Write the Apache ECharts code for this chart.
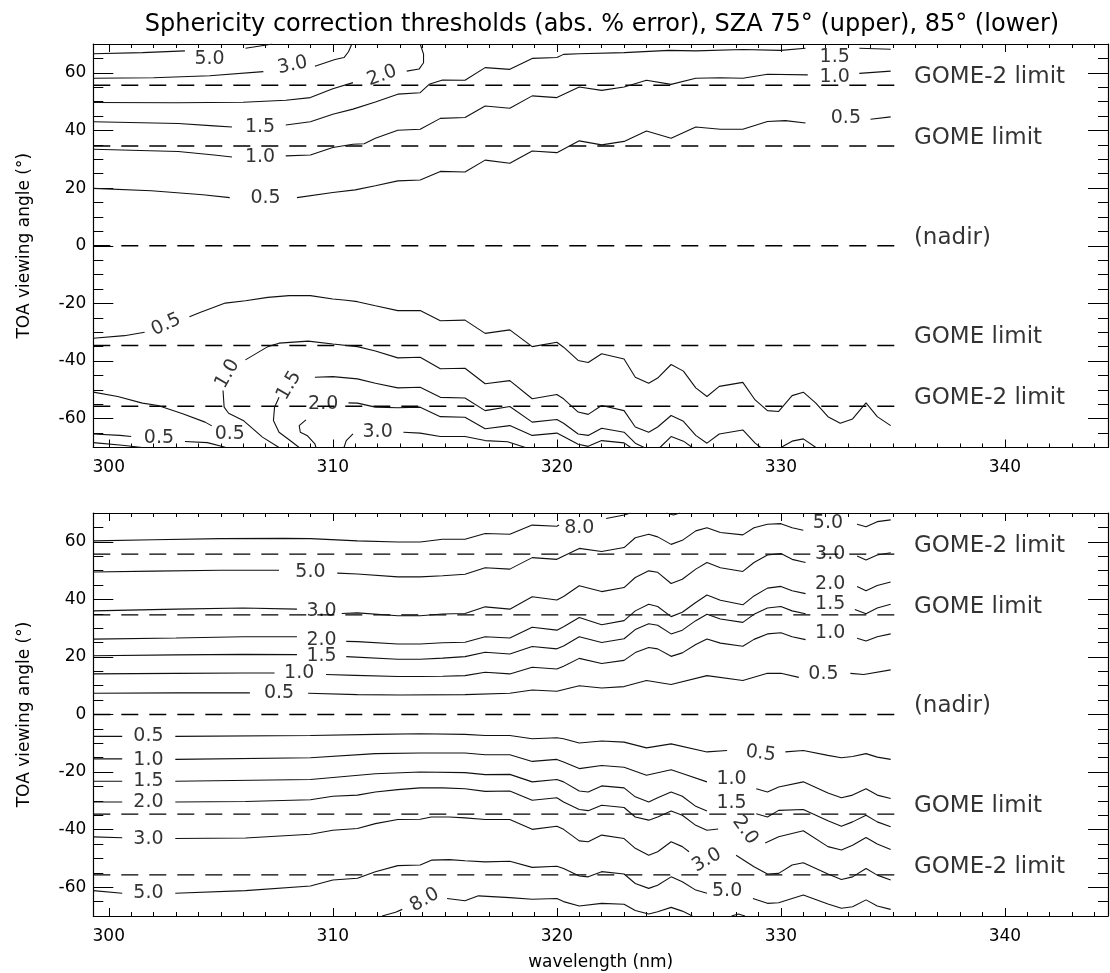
<!DOCTYPE html>
<html>
<head>
<meta charset="utf-8">
<title>Sphericity correction thresholds</title>
<script src="https://cdn.jsdelivr.net/npm/echarts@6/dist/echarts.min.js"></script>
<style>
  html, body { margin: 0; padding: 0; background: #fff; }
  #chart { width: 1110px; height: 973px; }
</style>
</head>
<body>
<div id="chart"></div>
<script>
// axis ranges and tick labels
var xMin = 299.31, xMax = 344.6;
var xTicks = [300, 310, 320, 330, 340];
var yMin = -70, yMax = 70;
var yTicks = [-60, -40, -20, 0, 20, 40, 60];

// dashed viewing-angle limits
var limitVals = [55.7, 34.6, 0, -34.6, -55.7];
var limitNames = ['GOME-2 limit', 'GOME limit', '(nadir)', 'GOME limit', 'GOME-2 limit'];
var limitEnd = 335.2;

// ---- upper panel, SZA 75 : contour segments [nm, angle]
var p75_pos_50 = [
  [[299.31, 66.6], [301.5, 67.0], [303.4, 67.6]],
  [[306.1, 68.5], [306.9, 69.5], [307.3, 70]]
];
var p75_pos_30 = [
  [[299.31, 58.1], [302, 58.3], [304.5, 59.0], [306.9, 60.4]],
  [[309.2, 62.3], [310.1, 64.6], [310.5, 65.3], [310.7, 67.3], [310.85, 70]]
];
var p75_pos_20 = [
  [[299.31, 49.7], [303, 49.6], [306, 49.8], [307.9, 50.5], [309, 51.4], [310, 54.5], [310.9, 56.6]],
  [[313.3, 60.6], [313.85, 61.3], [314.05, 63.5], [314.05, 66.5], [313.9, 70]]
];
var p75_pos_15 = [
  [[299.31, 43], [303.1, 42.4], [304.7, 41.6], [305.5, 41.2]],
  [[307.9, 41.9], [309, 43], [310, 45.6], [310.9, 47.4], [311.9, 49.9], [312.9, 52.6], [313.9, 53.1], [314.3, 56],
   [314.9, 57.5], [315.9, 57.4], [316.8, 61.8], [317.9, 61.2], [318.9, 65], [320, 65.3], [320.3, 66.4], [321, 66.6],
   [323, 67], [325, 67.8], [326.2, 67.6], [328.3, 68.1], [330, 67.8], [331.1, 68.5]],
  [[333.5, 68.5], [334.9, 68.2]]
];
var p75_pos_10 = [
  [[299.31, 33.5], [303.1, 32.7], [304.7, 31.5], [305.5, 30.8]],
  [[307.9, 31.2], [309, 31.5], [310, 34.1], [310.9, 35.2], [311.4, 35.4], [311.9, 37.3], [312.9, 40.1], [313.9, 40.4],
   [314.8, 44.2], [315.9, 44.5], [316.8, 48.5], [317.9, 47.7], [318.9, 52], [320, 51.4], [321, 55.1], [322, 53.9],
   [323, 55.1], [324, 57.4], [325.1, 56], [326.2, 58.1], [327.3, 58.3], [328.3, 58.1], [329.4, 59.5], [331.2, 59.3]],
  [[333.5, 59.8], [334.9, 60.6]]
];
var p75_pos_05 = [
  [[299.31, 19.9], [301.9, 19.1], [304.2, 17.7], [305.4, 16.7]],
  [[308.4, 16.7], [310, 18.5], [311, 19.4], [311.9, 20.8], [312.9, 22.5], [313.9, 22.8], [314.8, 25.8], [315.9, 25.6],
   [316.8, 29.7], [317.9, 28.6], [318.9, 32.9], [320, 32.3], [321, 36.4], [322, 35], [323, 36.2], [324, 39.8],
   [325.1, 37.3], [326.2, 41.2], [327.3, 40.4], [328.3, 40.4], [329.4, 43.1], [330.2, 43.4], [331.1, 42.6]],
  [[334.0, 43.9], [334.9, 44.7]]
];
var p75_neg_05 = [
  [[299.31, -32.1], [300.7, -31.2], [301.6, -30]],
  [[303.6, -24.6], [304.1, -23.1], [305.2, -19.9], [306.1, -19.1], [307.1, -17.9], [308.05, -17.3], [309, -17.3],
   [310, -18.5], [310.6, -18.9], [311.1, -19.4], [311.9, -20.8], [312.9, -22.5], [313.9, -22.5], [314.8, -26],
   [315.9, -25.8], [316.8, -30.4], [317.9, -29.2], [318.9, -35], [320, -33.5], [320.3, -35.2], [320.95, -39.8],
   [321.4, -40.5], [322, -37.5], [323, -39.3], [323.5, -45.6], [324.1, -47.7], [324.5, -45.9], [325.1, -41.2],
   [325.65, -43.5], [326.2, -49.3], [326.7, -52.3], [327.25, -48.8], [328.3, -47.4], [328.85, -53.5], [329.4, -57.2],
   [329.9, -57.5], [330.5, -52], [331, -50.8], [331.55, -54.5], [332.1, -59.3], [332.65, -61.6], [333.2, -60.1],
   [333.8, -54.5], [334.3, -59.3], [334.9, -62.4]]
];
var p75_neg_10 = [
  [[306.1, -39.6], [307.1, -35], [307.6, -33.8], [308.9, -33.1], [310, -34.1], [311.1, -35], [311.9, -36.5],
   [312.9, -38.9], [313.9, -38.7], [314.8, -42.7], [315.9, -42.5], [316.8, -47.9], [317.9, -46.8], [318.9, -53.1],
   [320, -51.6], [320.3, -53.1], [320.95, -57.7], [321.4, -58.5], [322, -55.4], [323, -57.2], [323.5, -62.9],
   [324.1, -64.7], [324.5, -62.9], [325.1, -58.9], [325.65, -60.9], [326.2, -65.8], [326.7, -68.5], [327.25, -65.3],
   [328.3, -63.9], [328.85, -68.5], [329.1, -70]],
  [[330.0, -70], [330.5, -67.8], [331, -67], [331.55, -69.9], [331.6, -70]],
  [[305.1, -50.2], [305.15, -56], [305.35, -58.1], [306, -60.6], [306.86, -66.4], [307.6, -70]]
];
var p75_neg_15 = [
  [[309.2, -45.6], [310, -45.4], [311.1, -46.2], [311.9, -47.7], [312.9, -49.3], [313.9, -49.1], [314.8, -52.6],
   [315.9, -52.8], [316.8, -57.2], [317.9, -55.8], [318.9, -61.2], [320, -60.3], [320.3, -61.6], [320.95, -65.3],
   [321.4, -65.8], [322, -63.3], [323, -64.7], [323.5, -68.5], [323.9, -70]],
  [[324.6, -70], [325.1, -66.2], [325.65, -67.8], [326.05, -70]],
  [[307.6, -52.6], [307.4, -56], [307.35, -60.6], [307.6, -64.7], [308.05, -67.3], [308.5, -70]]
];
var p75_neg_20 = [
  [[310.7, -54.5], [311.1, -54.6], [311.9, -56], [312.9, -56.2], [313.9, -56], [314.8, -59.3], [315.9, -59.5],
   [316.8, -63.5], [317.9, -62.4], [318.9, -65.8], [320, -65], [320.3, -66.2], [320.95, -68.9], [321.4, -69.6],
   [322, -67.6], [323, -68.4], [323.3, -70]],
  [[308.8, -60.4], [308.5, -62.4], [308.55, -64.7], [308.85, -65.8], [309.2, -68.7], [309.25, -70]]
];
var p75_neg_30 = [
  [[313.15, -64.7], [313.9, -65], [314.8, -66.2], [315.9, -66.2], [316.8, -67.6], [317.8, -68], [318.6, -70]],
  [[310.9, -65.3], [310.6, -67.6], [310.5, -70]]
];
var p75_neg_05b = [
  [[299.31, -50.8], [300.4, -52.3], [301.5, -54.6], [302.2, -55.4], [303.3, -58.3], [304.3, -61.2], [304.6, -62.5]]
];
var p75_neg_05c = [
  [[299.31, -65.3], [300.5, -65.8], [301.0, -66.2]],
  [[303.4, -67.9], [304.4, -68.3], [305.2, -69.9]]
];
var p75_neg_05d = [
  [[299.31, -68.3], [300.6, -69.2], [301.5, -70]]
];
var p75_labels = [
  [304.5, 64.8, '5.0', 0], [308.2, 62.6, '3.0', 12], [312.2, 59.0, '2.0', 20],
  [306.75, 41.2, '1.5', 0], [332.4, 65.6, '1.5', 0],
  [306.75, 30.8, '1.0', 0], [332.4, 58.7, '1.0', 0],
  [307.0, 16.5, '0.5', 0], [332.9, 44.2, '0.5', 0],
  [302.56, -27.4, '0.5', 25], [305.3, -44.5, '1.0', 60], [308.05, -48.5, '1.5', 60],
  [309.57, -55.1, '2.0', 0], [312.0, -64.7, '3.0', 0],
  [305.4, -65.5, '0.5', 0], [302.24, -66.6, '0.5', 0]
];

// ---- lower panel, SZA 85
var p85_pos_80 = [
  [[299.31, 60.3], [302, 60.7], [305, 61.1], [307.8, 61.2], [309, 61.1], [311.1, 60.3], [312.9, 59.9], [313.9, 59.9],
   [314.9, 60.9], [315.9, 60.9], [316.8, 62.9], [317.9, 62.6], [318.9, 65.8], [320, 65.4], [320.1, 65.8]],
  [[322.2, 68.1], [323, 69.3], [323.3, 70]],
  [[324.9, 70], [325.2, 69.3], [325.5, 70]]
];
var p85_pos_50 = [
  [[299.31, 49.5], [302, 49.8], [305, 50.1], [307.6, 50.1]],
  [[310.2, 49.1], [311.1, 48.8], [312.9, 47.8], [313.9, 47.8], [314.9, 48.2], [315.9, 48.7], [316.8, 51], [317.9, 50.5],
   [318.9, 54.5], [320, 53.9], [320.3, 55.1], [321, 57.7], [322, 56.6], [323, 58], [323.5, 61.4], [324.1, 62.6],
   [324.5, 61.7], [325.1, 59.1], [325.6, 60.5], [326.2, 63.8], [326.7, 64.9], [327.3, 63.2], [328.3, 62.4],
   [328.8, 64.9], [329.4, 66.1], [330, 66.3], [330.5, 64.9], [331, 64]],
  [[333.4, 66.1], [333.8, 65.2], [334.3, 67], [334.9, 67.6]]
];
var p85_pos_30 = [
  [[299.31, 36], [303, 36.6], [306, 37], [308.4, 36.6]],
  [[310.4, 35.1], [311.1, 35.3], [312.9, 34.3], [313.9, 34.3], [314.9, 34.9], [315.9, 35.1], [316.8, 37.4], [317.9, 36.6],
   [318.9, 40.9], [320, 39.8], [320.3, 41], [321, 44.7], [322, 42.7], [323, 44.1], [323.5, 47.6], [324.1, 49.9],
   [324.5, 49.4], [325.1, 45.5], [325.6, 47], [326.2, 50.5], [326.7, 52.8], [327.3, 51], [328.3, 49.7], [328.8, 52.8],
   [329.4, 55.4], [330, 55.9], [330.5, 53.9], [331.1, 52.8]],
  [[333.4, 55.1], [333.8, 53.7], [334.3, 55.4], [334.9, 56.2]]
];
var p85_pos_20 = [
  [[299.31, 26.2], [303, 26.6], [306, 27], [308.4, 27]],
  [[310.6, 25.4], [311.1, 25.3], [312.9, 24.5], [313.9, 24.5], [314.9, 24.9], [315.9, 25.1], [316.8, 27], [317.9, 26.6],
   [318.9, 30.3], [320, 29.3], [320.3, 30.5], [321, 33.7], [322, 31.2], [323, 32.6], [323.5, 36], [324.1, 38.3],
   [324.5, 37.5], [325.1, 34], [325.6, 35.5], [326.2, 38.9], [326.7, 41.5], [327.3, 39.7], [328.3, 38.1], [328.8, 41.2],
   [329.4, 43.9], [330, 44.5], [330.5, 43], [331.1, 42]],
  [[333.4, 44.5], [333.8, 43], [334.3, 44.8], [334.9, 46]]
];
var p85_pos_15 = [
  [[299.31, 20.4], [303, 20.7], [306, 20.9], [308.4, 20.8]],
  [[310.6, 20.1], [312.9, 19.2], [313.9, 19.2], [314.9, 19.6], [315.9, 20.1], [316.8, 21.6], [317.9, 21], [318.9, 23.6],
   [320, 22.8], [320.3, 23.8], [321, 27], [322, 25], [323, 26.3], [323.5, 29.5], [324.1, 31.5], [324.5, 31],
   [325.1, 28], [325.6, 29.3], [326.2, 32.6], [326.7, 34.8], [327.3, 33.2], [328.3, 32], [328.8, 34.8], [329.4, 37],
   [330, 37.5], [330.5, 36], [331.1, 35]],
  [[333.3, 36.5], [333.8, 35], [334.3, 37], [334.9, 38.3]]
];
var p85_pos_10 = [
  [[299.31, 14.1], [303, 14.3], [306, 14.4], [307.4, 14.4]],
  [[309.7, 13.9], [311, 13.6], [312.9, 13.2], [313.9, 13.2], [314.9, 13.3], [315.9, 13.5], [316.8, 14.7], [317.9, 14.1],
   [318.9, 16.4], [320, 15.8], [320.3, 16.8], [321, 19.5], [322, 17.7], [323, 18.8], [323.5, 21.5], [324.1, 23.3],
   [324.5, 22.8], [325.1, 20.2], [325.6, 21.4], [326.2, 24.3], [326.7, 26.2], [327.3, 24.8], [328.3, 23.7],
   [328.8, 26.1], [329.4, 28], [330, 28.4], [330.5, 27], [331.1, 26]],
  [[333.4, 26.5], [333.8, 25.5], [334.3, 27], [334.9, 28]]
];
var p85_pos_05 = [
  [[299.31, 7.4], [303, 7.5], [306.3, 7.5]],
  [[308.9, 7.4], [311.1, 6.9], [313, 6.8], [315.9, 6.9], [317.9, 7.4], [318.9, 8.5], [320, 8.1], [321, 10], [322, 9.2],
   [323, 9.7], [324, 11.8], [325.1, 10.4], [326.7, 13.5], [328.3, 11.8], [329.4, 14.3], [330, 14.3], [330.8, 12.9]],
  [[333.1, 14.3], [333.7, 13.9], [334.9, 15.5]]
];
var p85_neg_05 = [
  [[299.31, -7.6], [300.6, -7.6]],
  [[302.97, -7.6], [309, -7.3], [311.9, -6.9], [313.9, -6.7], [315.9, -6.9], [316.8, -7.3], [317.9, -7.3],
   [318.9, -8.4], [320, -8.1], [320.3, -8.4], [321, -9.9], [322, -9.2], [323, -9.6], [324, -11.6], [325.1, -10.2],
   [326.7, -13], [327.6, -12.5]],
  [[330.2, -13], [331, -12.5], [332.1, -14.2], [332.7, -15], [333.2, -14.6], [333.8, -13.6], [334.3, -14.8], [334.9, -15.6]]
];
var p85_neg_10 = [
  [[299.31, -15.4], [300.6, -15.4]],
  [[302.97, -15.6], [309, -15], [311.9, -13.6], [313.9, -13.4], [315.9, -13.4], [316.8, -14], [317.9, -14],
   [318.9, -16.3], [320, -15.6], [320.3, -16.5], [321, -18.8], [322, -17.7], [323, -18.3], [324, -21.1],
   [325.1, -19.2], [325.6, -20.5], [326.7, -23.4]],
  [[328.9, -25.8], [329.4, -26.9], [329.9, -25.2], [331, -23.4], [332.1, -27.3], [332.7, -28.9], [333.2, -28],
   [333.8, -25.8], [334.3, -28], [334.9, -29.2]]
];
var p85_neg_15 = [
  [[299.31, -23.2], [300.6, -23.2]],
  [[302.97, -23.2], [309, -22.6], [311.9, -20.6], [313.9, -20], [315.9, -20.2], [316.8, -20.9], [317.9, -20.8],
   [318.9, -23.4], [320, -22.6], [320.3, -23.4], [321, -26.6], [321.4, -26.9], [322, -24.8], [323, -25.5],
   [323.5, -28.6], [324.1, -30.4], [324.5, -28.9], [325.1, -26.9], [325.6, -28.4], [326.2, -31.9], [326.7, -33.5]],
  [[328.9, -34.5], [329.4, -35.6], [329.9, -33.3], [331, -33], [332.1, -36.9], [332.7, -38.8], [333.2, -37.3],
   [333.8, -35], [334.3, -37.3], [334.9, -39]]
];
var p85_neg_20 = [
  [[299.31, -30.4], [300.6, -30.4]],
  [[302.97, -30.4], [306.1, -30.2], [309, -29.6], [310, -28.4], [311.1, -28], [311.9, -26.9], [312.9, -26.1],
   [313.9, -25.5], [314.9, -25.5], [315.9, -25.8], [316.8, -26.7], [317.9, -26.6], [318.9, -29.8], [320, -28.9],
   [320.3, -30.4], [321, -33], [321.4, -33.4], [322, -31.5], [323, -32.3], [323.5, -35.6], [324.1, -36.7],
   [324.5, -35.6], [325.1, -33.5], [325.6, -35], [326.2, -38.5], [326.7, -40.2], [327.2, -39.8]],
  [[329.3, -44.6], [329.9, -42.5], [331, -40.4], [332.1, -45.9], [332.7, -47.1], [333.2, -45.4], [333.8, -42.7],
   [334.3, -45], [334.9, -46.9]]
];
var p85_neg_30 = [
  [[299.31, -42.5], [300.6, -42.8]],
  [[302.97, -43.1], [306.1, -42.9], [309, -41.6], [310, -40.2], [311.1, -39.6], [311.9, -37.9], [312.9, -36.5],
   [313.9, -36.4], [314.4, -35.6], [315.2, -35.6], [315.9, -35.9], [316.8, -36.5], [317.9, -36.5], [318.9, -39.9],
   [320, -38.8], [320.3, -39.9], [321, -43.9], [321.4, -44.2], [322, -41.9], [323, -43.1], [323.5, -46.5],
   [324.1, -48.9], [324.5, -47.7], [325.1, -44.2], [325.6, -45.9], [325.9, -47.7]],
  [[328, -48.9], [328.8, -52.9], [329.4, -55.4], [329.9, -55.2], [330.5, -52.3], [331, -51.5], [332.1, -55.4],
   [332.7, -57.3], [333.2, -56.4], [333.8, -53.5], [334.3, -55.8], [334.9, -57.5]]
];
var p85_neg_50 = [
  [[299.31, -61.2], [300.6, -62.1]],
  [[302.97, -62.1], [306.1, -61.2], [309, -59.6], [310, -57.5], [311.1, -56.9], [311.9, -54.6], [312.9, -52.5],
   [313.9, -52.3], [314.4, -50.6], [315.2, -50.4], [315.9, -50.8], [316.8, -51.2], [317.9, -51], [318.9, -53.1],
   [320, -52.7], [320.3, -53.5], [321, -56.1], [321.4, -56.4], [322, -54.6], [323, -55.4], [323.5, -58.7],
   [324.1, -60.4], [324.5, -59.3], [325.1, -56.4], [325.6, -58.1], [326.2, -61], [326.7, -62.1]],
  [[328.75, -63.9], [329.4, -65.6], [329.9, -65.4], [331, -62.7], [332.1, -65.8], [332.7, -67.3], [333.2, -66.8],
   [333.8, -64.4], [334.3, -66.5], [334.9, -67.7]]
];
var p85_neg_80 = [
  [[312.2, -70], [312.8, -68.7], [313.1, -67.7]],
  [[315.1, -63.9], [315.9, -64.7], [316.5, -63], [317.9, -63.6], [318.9, -64.2], [320, -63.9], [320.3, -65],
   [321, -66.5], [322, -65.6], [323, -65.9], [323.5, -68.1], [324.1, -69.3], [324.5, -68.5], [325.1, -67],
   [325.6, -68.3], [326.05, -70]],
  [[327.8, -70], [328.1, -69.3], [328.4, -70]]
];
var p85_labels = [
  [321.0, 64.9, '8.0', 0],
  [309.0, 49.5, '5.0', 0], [332.1, 66.6, '5.0', 0],
  [309.5, 36.0, '3.0', 0], [332.2, 55.9, '3.0', 0],
  [309.5, 26.0, '2.0', 0], [332.2, 45.3, '2.0', 0],
  [309.5, 20.4, '1.5', 0], [332.2, 38.3, '1.5', 0],
  [308.5, 14.3, '1.0', 0], [332.2, 28.2, '1.0', 0],
  [307.6, 7.4, '0.5', 0], [331.9, 13.9, '0.5', 0],
  [301.77, -7.6, '0.5', 0], [329.1, -13.6, '0.5', -8],
  [301.77, -15.7, '1.0', 0], [327.8, -22.3, '1.0', 0],
  [301.77, -23.1, '1.5', 0], [327.8, -30.9, '1.5', 0],
  [301.77, -30.4, '2.0', 0], [328.4, -40.2, '2.0', -55],
  [301.77, -43.1, '3.0', 0], [326.7, -50.6, '3.0', 30],
  [301.77, -62.1, '5.0', 0], [327.6, -61.2, '5.0', 0],
  [314.1, -64.4, '8.0', 30]
];

var p75_lines = [p75_pos_50, p75_pos_30, p75_pos_20, p75_pos_15, p75_pos_10, p75_pos_05,
  p75_neg_05, p75_neg_10, p75_neg_15, p75_neg_20, p75_neg_30, p75_neg_05b, p75_neg_05c, p75_neg_05d];
var p85_lines = [p85_pos_80, p85_pos_50, p85_pos_30, p85_pos_20, p85_pos_15, p85_pos_10, p85_pos_05,
  p85_neg_05, p85_neg_10, p85_neg_15, p85_neg_20, p85_neg_30, p85_neg_50, p85_neg_80];

var FONT = 'DejaVu Sans';
var INK = '#000';

function steps(a, b, s) {
  var r = [];
  for (var v = a; v <= b + 1e-9; v += s) r.push(Math.round(v * 100) / 100);
  return r;
}
var xMinor = steps(300, 344, 1);
var yMinor = steps(-65, 65, 5);

// 4 x axes per grid: bottom major/minor, top major/minor
function xAxesFor(g, name) {
  var base = {type: 'value', gridIndex: g, min: xMin, max: xMax, splitLine: {show: false}};
  function ax(pos, vals, len, line, labels) {
    return Object.assign({}, base, {
      position: pos,
      axisLine: {show: line, onZero: false, lineStyle: {color: INK, width: 1.2}},
      axisTick: {show: true, inside: true, length: len, customValues: vals, lineStyle: {color: INK, width: 1}},
      axisLabel: labels ? {show: true, customValues: xTicks, margin: 12, fontSize: 17, fontFamily: FONT, color: INK}
                        : {show: false}
    });
  }
  var main = ax('bottom', xTicks, 8, true, true);
  if (name) {
    main.name = name;
    main.nameLocation = 'middle';
    main.nameGap = 38;
    main.nameTextStyle = {fontSize: 17, fontFamily: FONT, color: INK};
  }
  return [main, ax('bottom', xMinor, 4, false, false), ax('top', xTicks, 8, true, false), ax('top', xMinor, 4, false, false)];
}

function yAxesFor(g) {
  var base = {type: 'value', gridIndex: g, min: yMin, max: yMax, splitLine: {show: false}};
  function ax(pos, vals, len, line, labels) {
    return Object.assign({}, base, {
      position: pos,
      axisLine: {show: line, onZero: false, lineStyle: {color: INK, width: 1.2}},
      axisTick: {show: true, inside: true, length: len, customValues: vals, lineStyle: {color: INK, width: 1}},
      axisLabel: labels ? {show: true, customValues: yTicks, margin: 7, fontSize: 17, fontFamily: FONT, color: INK}
                        : {show: false}
    });
  }
  var main = ax('left', yTicks, 20, true, true);
  main.name = 'TOA viewing angle (°)';
  main.nameLocation = 'middle';
  main.nameGap = 60;
  main.nameTextStyle = {fontSize: 17, fontFamily: FONT, color: INK};
  return [main, ax('left', yMinor, 10, false, false), ax('right', yTicks, 20, true, false), ax('right', yMinor, 10, false, false)];
}

function contourSeries(lines, g) {
  var out = [];
  lines.forEach(function (segs) {
    segs.forEach(function (seg) {
      out.push({
        type: 'line', xAxisIndex: 4 * g, yAxisIndex: 4 * g, data: seg,
        symbol: 'none', silent: true, z: 3,
        lineStyle: {color: '#111', width: 1.1}
      });
    });
  });
  return out;
}

function labelSeries(list, g) {
  return {
    type: 'scatter', xAxisIndex: 4 * g, yAxisIndex: 4 * g, symbolSize: 1, silent: true, z: 5,
    itemStyle: {color: 'rgba(255,255,255,0)'},
    data: list.map(function (l) {
      return {value: [l[0], l[1]], name: l[2], label: {rotate: l[3]}};
    }),
    label: {show: true, position: 'inside', formatter: '{b}', fontSize: 19, fontFamily: FONT, color: INK,
            textBorderWidth: 0}
  };
}

function limitSeries(g) {
  var out = limitVals.map(function (v) {
    return {
      type: 'line', xAxisIndex: 4 * g, yAxisIndex: 4 * g, data: [[xMin, v], [limitEnd, v]],
      symbol: 'none', silent: true, z: 2,
      lineStyle: {color: INK, width: 1.4, type: [17, 11]}
    };
  });
  out.push({
    type: 'scatter', xAxisIndex: 4 * g, yAxisIndex: 4 * g, symbolSize: 1, silent: true, z: 5,
    itemStyle: {color: 'rgba(255,255,255,0)'},
    data: limitVals.map(function (v, i) { return {value: [limitEnd, v], name: limitNames[i]}; }),
    label: {show: true, position: 'right', distance: 16, offset: [0, -8], formatter: '{b}',
            fontSize: 23, fontFamily: FONT, color: INK, textBorderWidth: 0}
  });
  return out;
}

var chart = echarts.init(document.getElementById('chart'));

var option = {
  animation: false,
  backgroundColor: '#fff',
  graphic: [{
    type: 'text', x: 602, y: 25,
    style: {
      text: 'Sphericity correction thresholds (abs. % error), SZA 75° (upper), 85° (lower)',
      fontSize: 24, fontFamily: FONT, fill: INK, textAlign: 'center', textVerticalAlign: 'middle'
    }
  }],
  grid: [
    {left: 93.3, right: 2, top: 44, height: 403.5},
    {left: 93.3, right: 2, top: 513, height: 403}
  ],
  xAxis: xAxesFor(0, '').concat(xAxesFor(1, 'wavelength (nm)')),
  yAxis: yAxesFor(0).concat(yAxesFor(1)),
  series: [].concat(
    limitSeries(0), contourSeries(p75_lines, 0), [labelSeries(p75_labels, 0)],
    limitSeries(1), contourSeries(p85_lines, 1), [labelSeries(p85_labels, 1)]
  )
};

chart.setOption(option);
</script>
</body>
</html>
